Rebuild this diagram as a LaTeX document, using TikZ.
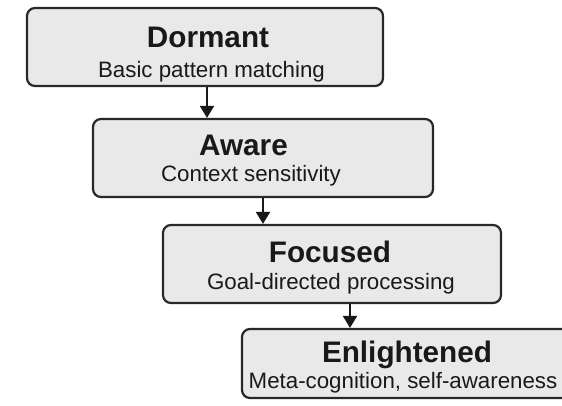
\documentclass[tikz,border=0pt]{standalone}
\usepackage{fontspec}
\setmainfont{Liberation Sans}
\usetikzlibrary{arrows.meta}
\definecolor{boxfill}{RGB}{233,233,233}
\definecolor{boxline}{RGB}{40,40,40}
\definecolor{ink}{RGB}{25,25,25}
\begin{document}
\begin{tikzpicture}[x=1pt,y=-1pt,
  stagebox/.style={draw=boxline, fill=boxfill, line width=2.2pt, rounded corners=8pt, inner sep=0pt},
  titletext/.style={font=\fontsize{29.7}{30}\selectfont\bfseries, text=ink, anchor=base, inner sep=0pt},
  subtext/.style={font=\fontsize{22.3}{24}\selectfont, text=ink, anchor=base, inner sep=0pt},
  flow/.style={draw=ink, line width=2pt, -{Triangle[width=14pt,length=12pt]}}]
\useasboundingbox (0,0) rectangle (562,405);
\clip (0,0) rectangle (562,405);
% boxes
\node[stagebox, minimum width=356pt, minimum height=78pt] (b1) at (205,47) {};
\node[stagebox, minimum width=340pt, minimum height=78pt] (b2) at (263,158) {};
\node[stagebox, minimum width=338pt, minimum height=78pt] (b3) at (332,264) {};
\node[stagebox, minimum width=333pt, minimum height=69pt] (b4) at (408.5,363.5) {};
% texts
\node[titletext] (t1) at (208,47) {Dormant};
\node[subtext] (s1) at (211.5,77) {Basic pattern matching};
\node[titletext] (t2) at (243.5,155) {Aware};
\node[subtext] (s2) at (251,181.7) {Context sensitivity};
\node[titletext] (t3) at (330,262) {Focused};
\node[subtext] (s3) at (331,289) {Goal-directed processing};
\node[titletext] (t4) at (407,362) {Enlightened};
\node[subtext] (s4) at (403,388) {Meta-cognition, self-awareness};
% arrows
\coordinate (a1) at (207,0);
\coordinate (a2) at (263,0);
\coordinate (a3) at (350,0);
\draw[flow] (b1.south -| a1) -- (b2.north -| a1);
\draw[flow] (b2.south -| a2) -- (b3.north -| a2);
\draw[flow] (b3.south -| a3) -- (b4.north -| a3);
\end{tikzpicture}
\end{document}
